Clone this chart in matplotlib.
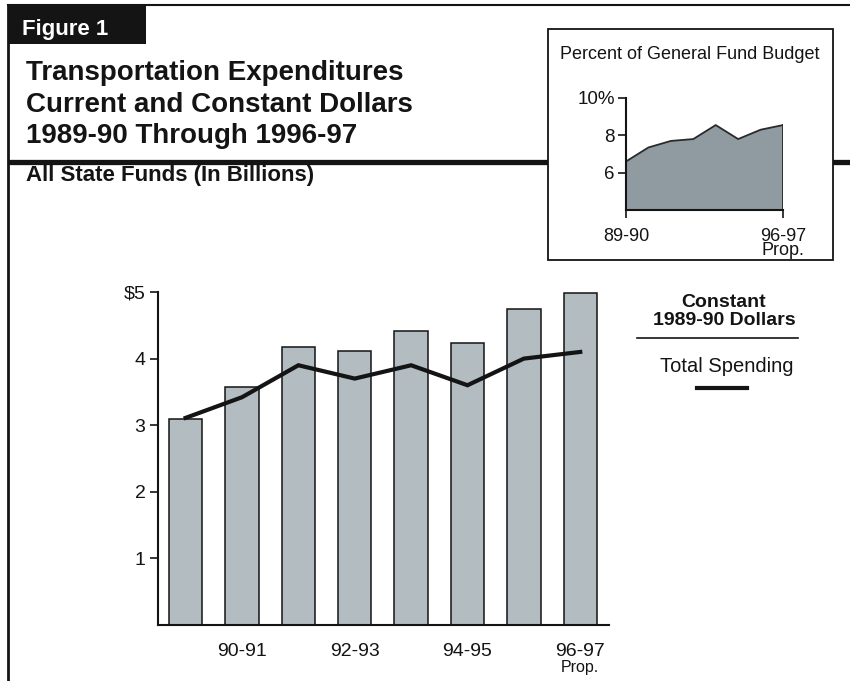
import matplotlib
matplotlib.use('Agg')
import matplotlib.pyplot as plt
from matplotlib.patches import Rectangle
from matplotlib.lines import Line2D

plt.rcParams['font.family'] = ['Liberation Sans', 'DejaVu Sans']

# ── data ──────────────────────────────────────
years = ['89-90', '90-91', '91-92', '92-93', '93-94', '94-95', '95-96', '96-97']
current_dollars = [3.10, 3.58, 4.18, 4.11, 4.41, 4.24, 4.74, 4.99]   # bars
constant_dollars = [3.11, 3.42, 3.90, 3.70, 3.90, 3.60, 4.00, 4.10]  # line
pct_general_fund = [6.6, 7.35, 7.7, 7.8, 8.55, 7.8, 8.3, 8.55]       # inset

main_ticks = [1, 3, 5, 7]
main_ticklabels = ['90-91', '92-93', '94-95', '96-97']
y_ticks = [1, 2, 3, 4, 5]
y_ticklabels = ['1', '2', '3', '4', '$5']

W, H = 850, 681
INK = '#141414'
BAR = '#b2bcc1'
FILL = '#8f9ba1'

fig = plt.figure(figsize=(W / 100, H / 100), dpi=100)
fig.patch.set_facecolor('white')

# overlay in pixel coordinates for the page furniture
deco = fig.add_axes([0, 0, 1, 1])
deco.set_xlim(0, W)
deco.set_ylim(H, 0)
deco.axis('off')

deco.add_line(Line2D([8, W], [5, 5], color=INK, lw=1.5))
deco.add_line(Line2D([8, 8], [5, H], color=INK, lw=2))
deco.add_patch(Rectangle((8, 4), 138, 40, facecolor=INK, edgecolor='none'))
deco.text(22, 35, 'Figure 1', color='white', fontsize=16, fontweight='bold')

for txt, yb in [('Transportation Expenditures', 80),
                ('Current and Constant Dollars', 112),
                ('1989-90 Through 1996-97', 143)]:
    deco.text(26, yb, txt, color=INK, fontsize=20, fontweight='bold')

deco.add_line(Line2D([10, W], [162, 162], color=INK, lw=3.8, solid_capstyle='round'))
deco.text(26, 181, 'All State Funds (In Billions)', color=INK, fontsize=16,
          fontweight='bold')

# inset box
deco.add_patch(Rectangle((548, 29), 285, 231, facecolor='white', edgecolor=INK, lw=1.3,
                         zorder=3))
deco.text(690, 59, 'Percent of General Fund Budget', color=INK, fontsize=13,
          ha='center', zorder=4)

# custom legend
deco.text(724, 307, 'Constant', color=INK, fontsize=14, fontweight='bold', ha='center')
deco.text(724, 325, '1989-90 Dollars', color=INK, fontsize=14, fontweight='bold',
          ha='center')
deco.add_line(Line2D([637, 798], [338, 338], color=INK, lw=1.2))
deco.text(727, 372, 'Total Spending', color=INK, fontsize=14.5, ha='center')
deco.add_line(Line2D([697, 747], [388, 388], color=INK, lw=3))

# ── main chart ────────────────────────────────
ax = fig.add_axes([158 / W, (H - 625) / H, 451 / W, 333 / H])
ax.set_facecolor('none')
x = list(range(len(years)))
ax.bar(x, current_dollars, width=0.59, color=BAR, edgecolor=INK, linewidth=1.1)
ax.plot(x, constant_dollars, color=INK, lw=3, solid_joinstyle='miter')
ax.set_xlim(-0.49, 7.51)
ax.set_ylim(0, 5)
ax.set_yticks(y_ticks)
ax.set_yticklabels(y_ticklabels, fontsize=14, color=INK)
ax.set_xticks(main_ticks)
ax.set_xticklabels(main_ticklabels, fontsize=14, color=INK)
ax.tick_params(axis='x', length=0, pad=13)
ax.tick_params(axis='y', length=6, width=1.2, color=INK, pad=3, direction='out')
for s in ['top', 'right']:
    ax.spines[s].set_visible(False)
for s in ['left', 'bottom']:
    ax.spines[s].set_linewidth(1.5)
    ax.spines[s].set_color(INK)
ax.text(7, -0.64, 'Prop.', fontsize=11.5, color=INK, ha='center', va='center')

# ── inset ─────────────────────────────────────
ax2 = fig.add_axes([626 / W, (H - 210) / H, 157 / W, 112 / H])
ax2.set_facecolor('none')
xi = list(range(len(pct_general_fund)))
ax2.fill_between(xi, 4, pct_general_fund, color=FILL, edgecolor='none')
ax2.plot(xi, pct_general_fund, color='#2a2a2a', lw=1.3)
ax2.plot([7, 7], [4, pct_general_fund[-1]], color='#2a2a2a', lw=1.3)
ax2.set_xlim(0, 7)
ax2.set_ylim(4, 10)
ax2.set_yticks([6, 8, 10])
ax2.set_yticklabels(['6', '8', '10%'], fontsize=13.5, color=INK)
ax2.set_xticks([0, 7])
ax2.set_xticklabels(['89-90', '96-97\nProp.'], fontsize=13, color=INK,
                    linespacing=0.8)
ax2.tick_params(axis='y', length=6, width=1.2, color=INK, direction='out', pad=2)
ax2.tick_params(axis='x', length=6, width=1.2, color=INK, direction='out', pad=7)
for s in ['top', 'right']:
    ax2.spines[s].set_visible(False)
for s in ['left', 'bottom']:
    ax2.spines[s].set_linewidth(1.5)
    ax2.spines[s].set_color(INK)
ax2.set_zorder(5)

plt.savefig('out.png', dpi=100, facecolor='white')
plt.close()
